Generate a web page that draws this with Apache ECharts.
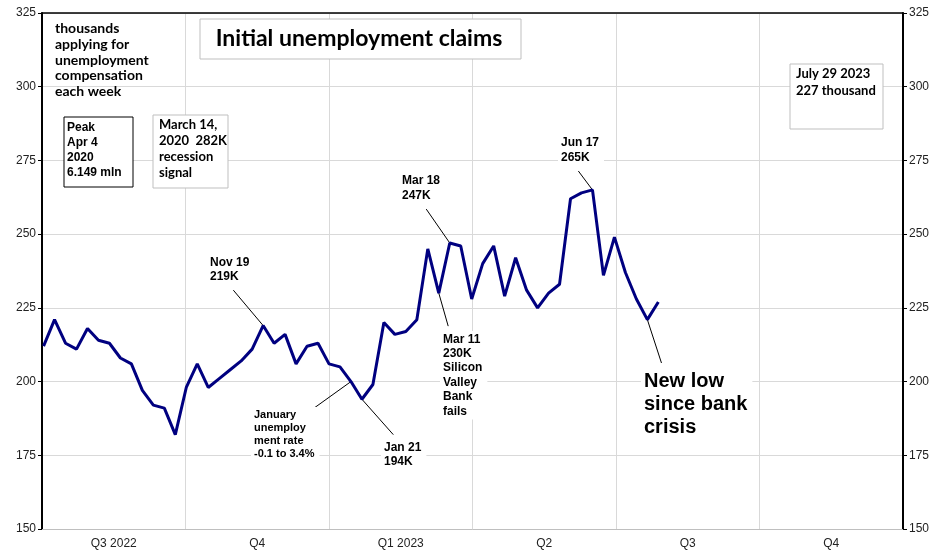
<!DOCTYPE html>
<html>
<head>
<meta charset="utf-8">
<script src="https://cdn.jsdelivr.net/npm/echarts@6/dist/echarts.min.js"></script>
<style>
  html, body { margin: 0; padding: 0; background: #fff; }
  #chart { width: 948px; height: 552px; }
</style>
</head>
<body>
<div id="chart"></div>
<script>
// weekly initial claims, thousands, week ending Sat Jul 2 2022 .. Jul 29 2023
const firstWeek = '2022-07-02'
const claims = [
  212, 221, 213, 211, 218, 214, 213, 208, 206, 197,
  192, 191, 182, 198, 206, 198, 201, 204, 207, 211,
  219, 213, 216, 206, 212, 213, 206, 205, 200, 194,
  199, 220, 216, 217, 221, 245, 230, 247, 246, 228,
  240, 246, 229, 242, 231, 225, 230, 233, 262, 264,
  265, 236, 249, 237, 228, 221, 227
]
const quarters = ['Q3 2022', 'Q4', 'Q1 2023', 'Q2', 'Q3', 'Q4']
const yTicks = [150, 175, 200, 225, 250, 275, 300, 325]

// week-ending dates for the claims
const weeks = claims.map((v, i) => {
  const d = new Date(firstWeek + 'T00:00:00')
  d.setDate(d.getDate() + 7 * i)
  return d
})
const seriesData = claims.map((v, i) => [weeks[i], v])

// leader lines: [from, to] in data coords
const leaders = [
  [['2022-10-31', 231], ['2022-11-19', 219]],
  [['2022-12-17', 189.3], ['2023-01-14', 200]],
  [['2023-01-21', 194], ['2023-02-10', 182]],
  [['2023-03-11', 230], ['2023-03-17', 218.8]],
  [['2023-03-03', 258.5], ['2023-03-18', 247]],
  [['2023-06-08', 271.4], ['2023-06-17', 265]],
  [['2023-07-22', 221], ['2023-07-31', 206.3]]
]

const arial = '"Liberation Sans", Arial, sans-serif'
const calibri = 'Lato, Carlito, Calibri, sans-serif'

function label(text, left, top, font, lh) {
  return {
    type: 'text', left: left - 3, top: top - 1, z: 100,
    style: {
      text: text, font: font, lineHeight: lh, fill: '#000',
      backgroundColor: '#fff', padding: [1, 5, 1, 3]
    }
  }
}
function box(x, y, w, h, stroke) {
  return {
    type: 'rect', z: 90,
    shape: { x: x, y: y, width: w, height: h },
    style: { fill: '#fff', stroke: stroke, lineWidth: 1 }
  }
}
function plain(text, left, top, font, lh) {
  return {
    type: 'text', left: left, top: top, z: 100,
    style: { text: text, font: font, lineHeight: lh, fill: '#000' }
  }
}

const chart = echarts.init(document.getElementById('chart'), null, { renderer: 'canvas' })

const yAxisBase = {
  type: 'value', min: yTicks[0], max: yTicks[yTicks.length - 1], interval: 25,
  axisLine: { show: true, lineStyle: { color: '#000', width: 2 } },
  axisTick: { show: true, length: 4, lineStyle: { color: '#000' } },
  axisLabel: { color: '#222', fontFamily: arial, fontSize: 12, margin: 6 }
}

chart.setOption({
  animation: false,
  grid: { left: 42, right: 45, top: 13, bottom: 23, containLabel: false },
  xAxis: [
    {
      type: 'category', data: quarters, position: 'bottom', boundaryGap: true,
      axisLine: { lineStyle: { color: '#bfbfbf', width: 1 } },
      axisTick: { show: false },
      axisLabel: { color: '#222', fontFamily: arial, fontSize: 12, margin: 9 },
      splitLine: { show: true, lineStyle: { color: '#d9d9d9', width: 1 } }
    },
    {
      type: 'time', min: '2022-07-01', max: '2024-01-01', position: 'top',
      axisLine: { show: true, lineStyle: { color: '#000', width: 1.5 } },
      axisTick: { show: false }, axisLabel: { show: false },
      splitLine: { show: false }
    }
  ],
  yAxis: [
    Object.assign({}, yAxisBase, {
      position: 'left',
      splitLine: { show: true, lineStyle: { color: '#d9d9d9', width: 1 } }
    }),
    Object.assign({}, yAxisBase, { position: 'right', splitLine: { show: false } })
  ],
  series: [{
    type: 'line', xAxisIndex: 1, yAxisIndex: 0,
    data: seriesData, symbol: 'none', smooth: false, z: 5,
    lineStyle: { color: '#000080', width: 3 },
    markLine: {
      silent: true, symbol: 'none', label: { show: false },
      lineStyle: { color: '#000', width: 1, type: 'solid' },
      data: leaders.map(l => [{ coord: l[0] }, { coord: l[1] }])
    }
  }],
  graphic: [
    box(200, 19, 321, 40, '#bfbfbf'),
    {
      type: 'text', x: 359, y: 39, z: 100,
      style: {
        text: 'Initial unemployment claims', font: 'bold 23px ' + calibri,
        fill: '#000', align: 'center', verticalAlign: 'middle'
      }
    },
    plain('thousands\napplying for\nunemployment\ncompensation\neach week', 55, 21,
      'bold 14px ' + calibri, 15.7),
    box(64, 117, 69, 70, '#000'),
    plain('Peak\nApr 4\n2020\n6.149 mln', 67, 120.5, 'bold 12px ' + arial, 15),
    box(153, 115, 75, 73, '#bfbfbf'),
    plain('March 14,\n2020  282K\nrecession\nsignal', 159, 117, 'bold 13px ' + calibri, 16),
    box(790, 64, 93, 65, '#bfbfbf'),
    plain('July 29 2023\n227 thousand', 796, 65.5, 'bold 13px ' + calibri, 17),
    label('Nov 19\n219K', 210, 256, 'bold 12px ' + arial, 14),
    label('Mar 18\n247K', 402, 173.5, 'bold 12px ' + arial, 14.6),
    label('Jun 17\n265K', 561, 135, 'bold 12px ' + arial, 15),
    label('Mar 11\n230K\nSilicon\nValley\nBank\nfails', 443, 332, 'bold 12px ' + arial, 14.4),
    label('January\nunemploy\nment rate\n-0.1 to 3.4%', 254, 408, 'bold 11px ' + arial, 13),
    label('Jan 21\n194K', 384, 441, 'bold 12px ' + arial, 13.6),
    label('New low\nsince bank\ncrisis', 644, 369.5, 'bold 20px ' + arial, 23)
  ]
})
</script>
</body>
</html>
